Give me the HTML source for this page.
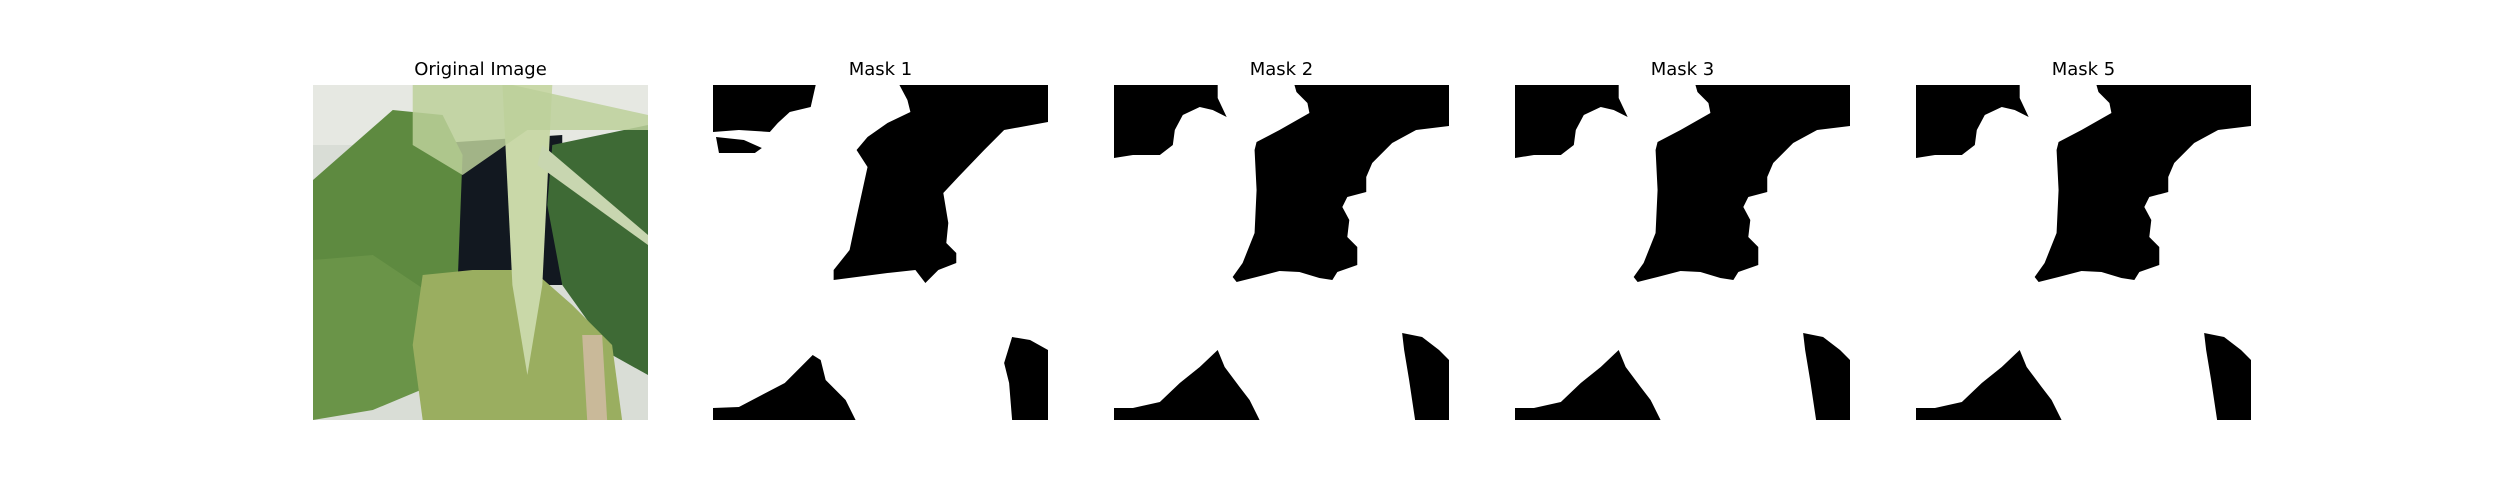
<!DOCTYPE html>
<html><head><meta charset="utf-8">
<style>
html,body{margin:0;padding:0;background:#fff;}
#fig{position:relative;width:2500px;height:500px;overflow:hidden;background:#fff;font-family:"DejaVu Sans","Liberation Sans",sans-serif;}
.title{position:absolute;top:59px;width:335px;text-align:center;font-size:18px;color:#000;}
.panel{position:absolute;top:85px;width:335px;height:335px;}
</style></head>
<body>
<div id="fig">
  <div class="title" style="left:313px">Original Image</div>
  <div class="title" style="left:713px">Mask 1</div>
  <div class="title" style="left:1114px">Mask 2</div>
  <div class="title" style="left:1515px">Mask 3</div>
  <div class="title" style="left:1916px">Mask 5</div>

  <svg class="panel" style="left:313px" viewBox="0 0 336 335" preserveAspectRatio="none">
    <rect width="336" height="335" fill="#d9ddd6"/>
    <rect x="0" y="0" width="336" height="60" fill="#e6e8e2"/>
    <path d="M130,58 L250,50 L250,200 L130,200 Z" fill="#121820"/>
    <path d="M0,95 L40,60 L80,25 L130,30 L150,70 L145,200 L120,230 L60,240 L0,230 Z" fill="#5e8a40"/>
    <path d="M0,175 L60,170 L120,210 L120,300 L60,325 L0,335 Z" fill="#6a9448"/>
    <path d="M240,60 L336,40 L336,290 L300,270 L250,200 L235,120 Z" fill="#3e6a35"/>
    <path d="M110,190 L160,185 L220,185 L260,220 L300,260 L310,335 L110,335 L100,260 Z" fill="#9aae60"/>
    <path d="M190,0 L240,0 L235,100 L230,200 L215,290 L200,200 L195,100 Z" fill="#c9d8a8"/>
    <path d="M100,0 L200,0 L336,30 L336,45 L215,45 L150,90 L100,60 Z" fill="#bcd09a" opacity="0.85"/>
    <path d="M230,60 L336,150 L336,160 L225,80 Z" fill="#c8d6b0"/>
    <path d="M270,250 L290,250 L295,335 L275,335 Z" fill="#c9b999"/>
  </svg>

  <svg class="panel" style="left:713px" viewBox="0 0 336 335" preserveAspectRatio="none">
    <rect width="336" height="335" fill="#fff"/>
    <path d="M0,0 L103,0 L98,22 L77,27 L65,38 L57,47 L26,45 L0,47 Z" fill="#000"/>
    <path d="M3,52 L31,55 L49,63 L42,68 L6,68 Z" fill="#000"/>
    <path d="M187,0 L336,0 L336,37 L292,45 L272,65 L246,92 L231,108 L236,138 L234,158 L244,168 L244,178 L226,185 L213,198 L203,185 L175,188 L121,195 L121,185 L137,165 L144,132 L155,82 L144,65 L155,52 L175,38 L198,27 L195,15 Z" fill="#000"/>
    <path d="M0,335 L0,323 L26,322 L72,298 L100,270 L108,275 L113,295 L133,315 L143,335 Z" fill="#000"/>
    <path d="M300,252 L318,255 L336,265 L336,335 L300,335 L297,298 L292,278 Z" fill="#000"/>
  </svg>

  <svg class="panel" style="left:1114px" viewBox="0 0 336 335" preserveAspectRatio="none">
    <rect width="336" height="335" fill="#fff"/>
    <path d="M0,0 L104,0 L104,13 L113,32 L99,25 L86,22 L69,30 L61,45 L59,60 L46,70 L19,70 L0,73 Z" fill="#000"/>
    <path d="M181,0 L336,0 L336,41 L303,45 L279,58 L259,78 L253,92 L253,107 L234,112 L229,122 L236,135 L234,152 L244,162 L244,180 L224,187 L219,195 L206,193 L186,187 L166,186 L143,192 L123,197 L119,192 L129,178 L141,148 L143,105 L141,65 L143,57 L166,45 L196,28 L194,18 L183,7 Z" fill="#000"/>
    <path d="M0,335 L0,323 L19,323 L46,317 L66,298 L86,282 L104,265 L111,282 L126,302 L136,315 L146,335 Z" fill="#000"/>
    <path d="M289,248 L309,252 L326,265 L336,275 L336,335 L302,335 L299,315 L296,295 L291,265 Z" fill="#000"/>
  </svg>

  <svg class="panel" style="left:1515px" viewBox="0 0 336 335" preserveAspectRatio="none">
    <rect width="336" height="335" fill="#fff"/>
    <path d="M0,0 L104,0 L104,13 L113,32 L99,25 L86,22 L69,30 L61,45 L59,60 L46,70 L19,70 L0,73 Z" fill="#000"/>
    <path d="M181,0 L336,0 L336,41 L303,45 L279,58 L259,78 L253,92 L253,107 L234,112 L229,122 L236,135 L234,152 L244,162 L244,180 L224,187 L219,195 L206,193 L186,187 L166,186 L143,192 L123,197 L119,192 L129,178 L141,148 L143,105 L141,65 L143,57 L166,45 L196,28 L194,18 L183,7 Z" fill="#000"/>
    <path d="M0,335 L0,323 L19,323 L46,317 L66,298 L86,282 L104,265 L111,282 L126,302 L136,315 L146,335 Z" fill="#000"/>
    <path d="M289,248 L309,252 L326,265 L336,275 L336,335 L302,335 L299,315 L296,295 L291,265 Z" fill="#000"/>
  </svg>

  <svg class="panel" style="left:1916px" viewBox="0 0 336 335" preserveAspectRatio="none">
    <rect width="336" height="335" fill="#fff"/>
    <path d="M0,0 L104,0 L104,13 L113,32 L99,25 L86,22 L69,30 L61,45 L59,60 L46,70 L19,70 L0,73 Z" fill="#000"/>
    <path d="M181,0 L336,0 L336,41 L303,45 L279,58 L259,78 L253,92 L253,107 L234,112 L229,122 L236,135 L234,152 L244,162 L244,180 L224,187 L219,195 L206,193 L186,187 L166,186 L143,192 L123,197 L119,192 L129,178 L141,148 L143,105 L141,65 L143,57 L166,45 L196,28 L194,18 L183,7 Z" fill="#000"/>
    <path d="M0,335 L0,323 L19,323 L46,317 L66,298 L86,282 L104,265 L111,282 L126,302 L136,315 L146,335 Z" fill="#000"/>
    <path d="M289,248 L309,252 L326,265 L336,275 L336,335 L302,335 L299,315 L296,295 L291,265 Z" fill="#000"/>
  </svg>
</div>
</body></html>
